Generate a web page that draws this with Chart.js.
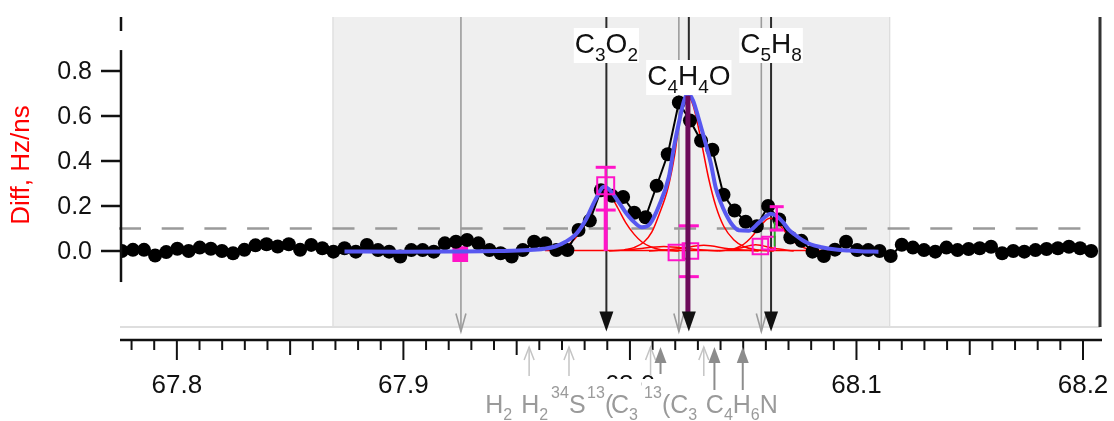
<!DOCTYPE html>
<html>
<head>
<meta charset="utf-8">
<title>Diff spectrum m/z 67.8 - 68.2</title>
<script src="https://cdn.jsdelivr.net/npm/chart.js@4.4.1/dist/chart.umd.min.js"></script>
<style>
  html, body { margin: 0; padding: 0; background: #fff; }
  #wrap { width: 1114px; height: 421px; position: relative; }
</style>
</head>
<body>
<div id="wrap"><canvas id="chart"></canvas></div>
<script>
// axis ranges
const xRange = [67.7749, 68.2075];
const yRange = [-0.3378, 1.04];
const yTicks = [0, 0.2, 0.4, 0.6, 0.8];
const xTicks = [67.8, 67.9, 68.0, 68.1, 68.2];
const threshold = 0.1;
const fitWindow = [67.8687, 68.1149];

// measured difference signal (Hz/ns)
const massPoints = [
  67.7757, 67.7806, 67.7855, 67.7904, 67.7953, 67.8002, 67.8052, 67.8101, 67.8150, 67.8199,
  67.8248, 67.8298, 67.8347, 67.8396, 67.8445, 67.8494, 67.8544, 67.8593, 67.8642, 67.8691,
  67.8740, 67.8790, 67.8839, 67.8888, 67.8937, 67.8986, 67.9035, 67.9085, 67.9134, 67.9183,
  67.9232, 67.9281, 67.9331, 67.9380, 67.9429, 67.9478, 67.9527, 67.9577, 67.9626, 67.9675,
  67.9724, 67.9773, 67.9823, 67.9872, 67.9921, 67.9970, 68.0019, 68.0069, 68.0118, 68.0167,
  68.0216, 68.0265, 68.0314, 68.0364, 68.0413, 68.0462, 68.0511, 68.0560, 68.0610, 68.0659,
  68.0708, 68.0757, 68.0806, 68.0856, 68.0905, 68.0954, 68.1003, 68.1052, 68.1102, 68.1151,
  68.1200, 68.1249, 68.1298, 68.1348, 68.1397, 68.1446, 68.1495, 68.1544, 68.1594, 68.1643,
  68.1692, 68.1741, 68.1790, 68.1839, 68.1889, 68.1938, 68.1987, 68.2036
];
const diffValues = [
  0.0, 0.005, 0.005, -0.02, -0.005, 0.01, 0.0, 0.015, 0.01, 0.0,
  -0.01, 0.005, 0.025, 0.03, 0.02, 0.03, 0.005, 0.027, 0.012, -0.003,
  0.012, -0.003, 0.027, 0.004, -0.003, -0.025, 0.004, 0.004, -0.003, 0.034,
  0.041, 0.049, 0.034, 0.004, -0.01, -0.025, 0.004, 0.041, 0.034, 0.004,
  0.004, 0.093, 0.135, 0.27, 0.245, 0.24, 0.17, 0.15, 0.29, 0.43,
  0.66, 0.58, 0.49, 0.45, 0.25, 0.18, 0.13, 0.11, 0.20, 0.14,
  0.06, 0.045, -0.003, -0.022, 0.006, 0.041, 0.004, 0.004, 0.0, -0.022,
  0.028, 0.015, 0.004, -0.003, 0.015, 0.004, 0.009, 0.012, 0.019, -0.01,
  0.0, -0.003, 0.004, 0.009, 0.012, 0.019, 0.012, 0.0
];

// total fit
const fitMass = [
  67.8740, 67.8982, 67.9203, 67.9423, 67.9555, 67.9621, 67.9670, 67.9714, 67.9762, 67.9806,
  67.9846, 67.9886, 67.9916, 67.9952, 67.9982, 68.0009, 68.0053, 68.0088, 68.0128, 68.0172,
  68.0194, 68.0216, 68.0238, 68.0256, 68.0278, 68.0300, 68.0317, 68.0339, 68.0357, 68.0379,
  68.0401, 68.0423, 68.0449, 68.0480, 68.0524, 68.0568, 68.0595, 68.0621, 68.0648, 68.0674,
  68.0701, 68.0731, 68.0762, 68.0797, 68.0846, 68.0908, 68.0965, 68.1031, 68.1097
];
const fitValues = [
  -0.002, -0.003, -0.002, 0.0, 0.004, 0.01, 0.02, 0.04, 0.075, 0.14,
  0.225, 0.285, 0.265, 0.215, 0.17, 0.138, 0.105, 0.12, 0.2, 0.33,
  0.46, 0.57, 0.665, 0.70, 0.67, 0.6, 0.54, 0.46, 0.39, 0.28,
  0.215, 0.165, 0.12, 0.092, 0.09, 0.125, 0.15, 0.165, 0.155, 0.13,
  0.095, 0.07, 0.048, 0.03, 0.017, 0.007, 0.002, -0.002, -0.003
];

// individual peak components
const c3o2Mass = [67.9643, 67.9687, 67.9731, 67.9775, 67.9820, 67.9855, 67.9881, 67.9912, 67.9947, 67.9982, 68.0018, 68.0053, 68.0093, 68.0137, 68.0216];
const c3o2Values = [0.003, 0.01, 0.03, 0.075, 0.15, 0.23, 0.27, 0.25, 0.19, 0.125, 0.075, 0.04, 0.018, 0.006, 0.0];
const c4h4oMass = [67.9974, 68.0018, 68.0062, 68.0097, 68.0128, 68.0168, 68.0198, 68.0216, 68.0238, 68.0256, 68.0278, 68.0300, 68.0322, 68.0348, 68.0379, 68.0414, 68.0458, 68.0502, 68.0555, 68.0635];
const c4h4oValues = [0.005, 0.015, 0.04, 0.085, 0.16, 0.28, 0.43, 0.56, 0.65, 0.69, 0.65, 0.56, 0.45, 0.32, 0.2, 0.11, 0.05, 0.02, 0.006, 0.0];
const c5h8Mass = [68.0458, 68.0502, 68.0533, 68.0564, 68.0590, 68.0617, 68.0643, 68.0674, 68.0705, 68.0740, 68.0780, 68.0842];
const c5h8Values = [0.008, 0.03, 0.058, 0.095, 0.127, 0.145, 0.135, 0.1, 0.06, 0.028, 0.01, 0.0];
const minorAMass = [67.9908, 68.0018, 68.0150, 68.0282, 68.0392];
const minorAValues = [0.0, 0.008, 0.02, 0.008, 0.0];
const minorBMass = [68.0084, 68.0216, 68.0326, 68.0436, 68.0568];
const minorBValues = [0.0, 0.01, 0.025, 0.01, 0.0];
const minorCMass = [68.0392, 68.0480, 68.0555, 68.0635, 68.0723];
const minorCValues = [0.0, 0.012, 0.028, 0.012, 0.0];
const baselineMass = [67.9625, 68.1050];
const baselineValues = [0.002, 0.002];

// peak list: assigned (black) and candidate (grey) positions
const peakNames = ['C_3O_2', 'C_4H_4O', 'C_5H_8'];
const peakMass = [67.9896, 68.0260, 68.0623];
const peakLabelTop = [28, 60, 28];
const candidateMass = [67.9254, 68.0216, 68.0580];

// stick intensities and error bars
const boxMass = [67.9893, 68.0205, 68.0267, 68.0576, 68.0612];
const boxValues = [0.29, -0.007, 0.0, 0.02, 0.035];
const lowBoxMass = [67.9251];
const lowBoxValues = [-0.014];
const errMass = [67.9893, 68.0260, 68.0648];
const errLow = [0.182, -0.114, 0.093];
const errHigh = [0.372, 0.112, 0.197];

// isotope / neighbour markers below the axis
const isoOpenMass = [67.9555, 67.9731, 68.0091, 68.0326];
const isoFilledMass = [68.0135, 68.0373, 68.0498];
const isoLabelMass = [67.9361, 67.9520, 67.9652, 67.9811, 67.9890, 67.9916, 68.0062, 68.0141, 68.0335];
const isoLabelText = ['H_2', 'H_2', '^34S', '^13', '(', 'C_3', '^13', '(C_3', 'C_4H_6N'];

const FONT = '"Liberation Sans", Arial, sans-serif';
const fontOf = size => size + 'px ' + FONT;

function pairs(xs, ys) {
  return xs.map((x, i) => ({ x: x, y: ys[i] }));
}

function formulaParts(str) {
  return str.match(/_\d+|\^\d+|[^_^]+/g).map(t => {
    if (t[0] === '_') return { text: t.slice(1), kind: 'sub' };
    if (t[0] === '^') return { text: t.slice(1), kind: 'sup' };
    return { text: t, kind: 'n' };
  });
}

function formulaWidth(ctx, str, size, small) {
  let w = 0;
  formulaParts(str).forEach(p => {
    ctx.font = fontOf(p.kind === 'n' ? size : small);
    w += ctx.measureText(p.text).width;
  });
  return w;
}

function drawFormula(ctx, str, x, baseline, size, small, color) {
  ctx.fillStyle = color;
  ctx.textAlign = 'left';
  ctx.textBaseline = 'alphabetic';
  formulaParts(str).forEach(p => {
    ctx.font = fontOf(p.kind === 'n' ? size : small);
    let yy = baseline;
    if (p.kind === 'sub') yy += size * 0.27;
    if (p.kind === 'sup') yy -= size * 0.6;
    ctx.fillText(p.text, x, yy);
    x += ctx.measureText(p.text).width;
  });
}

function seg(ctx, x1, y1, x2, y2) {
  ctx.beginPath();
  ctx.moveTo(x1, y1);
  ctx.lineTo(x2, y2);
  ctx.stroke();
}

const decor = {
  id: 'decor',
  beforeDatasetsDraw(chart) {
    const { ctx, chartArea: a, scales: { x, y } } = chart;
    ctx.save();
    // fit window
    const sx0 = x.getPixelForValue(fitWindow[0]);
    const sx1 = x.getPixelForValue(fitWindow[1]);
    ctx.fillStyle = '#efefef';
    ctx.fillRect(sx0, a.top, sx1 - sx0, a.bottom - a.top);
    ctx.strokeStyle = '#d8d8d8';
    ctx.lineWidth = 1;
    seg(ctx, sx0 + 0.5, a.top, sx0 + 0.5, a.bottom);
    seg(ctx, sx1 - 0.5, a.top, sx1 - 0.5, a.bottom);
    ctx.strokeStyle = '#dedede';
    ctx.lineWidth = 2;
    seg(ctx, a.left, a.bottom, a.right, a.bottom);

    // threshold
    ctx.strokeStyle = '#9a9a9a';
    ctx.lineWidth = 2.5;
    ctx.setLineDash([22, 20.7]);
    const ty = y.getPixelForValue(threshold);
    seg(ctx, a.left - 1, ty, a.right, ty);
    ctx.setLineDash([]);

    const tipY = y.getPixelForValue(-0.358);
    // candidate lines (grey, open heads)
    ctx.strokeStyle = '#9c9c9c';
    ctx.lineWidth = 1.6;
    candidateMass.forEach(m => {
      const px = x.getPixelForValue(m);
      seg(ctx, px, a.top, px, tipY);
      ctx.beginPath();
      ctx.moveTo(px - 5, tipY - 18);
      ctx.lineTo(px, tipY);
      ctx.lineTo(px + 5, tipY - 18);
      ctx.stroke();
    });
    // assigned peaks (black)
    ctx.strokeStyle = '#2a2a2a';
    ctx.lineWidth = 2;
    peakMass.forEach(m => {
      const px = x.getPixelForValue(m);
      seg(ctx, px, a.top, px, tipY - 10);
    });
    ctx.restore();
  },
  afterDatasetsDraw(chart) {
    const { ctx, chartArea: a, scales: { x, y } } = chart;
    ctx.save();
    const tipY = y.getPixelForValue(-0.358);

    // sticks
    ctx.lineCap = 'butt';
    ctx.strokeStyle = '#ff14c8';
    ctx.lineWidth = 4;
    seg(ctx, x.getPixelForValue(errMass[0]), y.getPixelForValue(0), x.getPixelForValue(errMass[0]), y.getPixelForValue(0.27));
    ctx.strokeStyle = '#22b022';
    ctx.lineWidth = 2;
    seg(ctx, x.getPixelForValue(68.0639), y.getPixelForValue(0.02), x.getPixelForValue(68.0639), y.getPixelForValue(0.13));

    // error bars
    ctx.strokeStyle = '#ff14c8';
    errMass.forEach((m, i) => {
      const px = x.getPixelForValue(m);
      const lo = y.getPixelForValue(errLow[i]);
      const hi = y.getPixelForValue(errHigh[i]);
      const cap = i === 2 ? 7 : 10;
      ctx.lineWidth = 2.5;
      seg(ctx, px, lo, px, hi);
      ctx.lineWidth = 3;
      seg(ctx, px - cap, lo, px + cap, lo);
      seg(ctx, px - cap, hi, px + cap, hi);
    });

    // C4H4O stick
    ctx.strokeStyle = '#6c0a5a';
    ctx.lineWidth = 5;
    const sx = x.getPixelForValue(68.0256);
    seg(ctx, sx, y.getPixelForValue(0.69), sx, y.getPixelForValue(-0.28));

    // black arrow heads
    ctx.fillStyle = '#111';
    peakMass.forEach(m => {
      const px = x.getPixelForValue(m);
      ctx.beginPath();
      ctx.moveTo(px - 7, tipY - 20);
      ctx.lineTo(px + 7, tipY - 20);
      ctx.lineTo(px, tipY);
      ctx.closePath();
      ctx.fill();
    });

    // peak labels on white boxes
    peakNames.forEach((name, i) => {
      const w = formulaWidth(ctx, name, 28, 19);
      const cx = x.getPixelForValue(peakMass[i]);
      const top = peakLabelTop[i];
      ctx.fillStyle = '#fff';
      ctx.fillRect(cx - w / 2 - 1, top, w + 2, 35);
      drawFormula(ctx, name, cx - w / 2, top + 25, 28, 19, '#111');
    });
    ctx.restore();
  },
  afterDraw(chart) {
    const { ctx, chartArea: a, scales: { x, y } } = chart;
    ctx.save();
    ctx.strokeStyle = '#111';
    ctx.fillStyle = '#111';

    // left axis
    ctx.lineWidth = 2.5;
    seg(ctx, a.left + 1, y.getPixelForValue(0.893), a.left + 1, y.getPixelForValue(-0.138));
    seg(ctx, a.left + 1, a.top, a.left + 1, a.top + 14);
    ctx.font = fontOf(25);
    ctx.textAlign = 'right';
    ctx.textBaseline = 'middle';
    yTicks.forEach(v => {
      const py = y.getPixelForValue(v);
      seg(ctx, a.left - 19, py, a.left + 1, py);
      ctx.fillText(v.toFixed(1), a.left - 28, py + 1);
    });

    // right frame
    ctx.strokeStyle = '#333';
    ctx.lineWidth = 3;
    seg(ctx, a.right, a.top, a.right, a.bottom);

    // bottom axis
    ctx.strokeStyle = '#111';
    ctx.lineWidth = 2.5;
    const axY = a.bottom + 13;
    seg(ctx, a.left, axY, a.right + 2, axY);
    ctx.lineWidth = 2;
    for (let i = 6778; i <= 6820; i++) {
      const px = x.getPixelForValue(i / 100);
      const len = i % 10 === 0 ? 20 : (i % 5 === 0 ? 15 : 10);
      seg(ctx, px, axY, px, axY + len);
    }
    ctx.font = fontOf(26);
    ctx.textAlign = 'center';
    ctx.textBaseline = 'middle';
    xTicks.forEach(v => {
      ctx.fillText(v.toFixed(1), x.getPixelForValue(v), axY + 46);
    });

    // y title
    ctx.save();
    ctx.translate(22, 165);
    ctx.rotate(-Math.PI / 2);
    ctx.fillStyle = '#ff0000';
    ctx.font = fontOf(26);
    ctx.textAlign = 'center';
    ctx.textBaseline = 'middle';
    ctx.fillText('Diff, Hz/ns', 0, 0);
    ctx.restore();

    // neighbour labels (white backed, drawn in order)
    const lblTop = axY + 39;
    isoLabelMass.forEach((m, i) => {
      const px = x.getPixelForValue(m);
      const w = formulaWidth(ctx, isoLabelText[i], 25, 16);
      ctx.fillStyle = '#fff';
      ctx.fillRect(px - 2, lblTop, w + 4, 421 - lblTop);
    });

    // neighbour markers
    const tip = axY + 7;
    ctx.strokeStyle = '#c4c4c4';
    ctx.lineWidth = 1.5;
    isoOpenMass.forEach(m => {
      const px = x.getPixelForValue(m);
      seg(ctx, px, tip, px, tip + 29);
      ctx.beginPath();
      ctx.moveTo(px - 5, tip + 13);
      ctx.lineTo(px, tip);
      ctx.lineTo(px + 5, tip + 13);
      ctx.stroke();
    });
    ctx.strokeStyle = '#8c8c8c';
    ctx.fillStyle = '#8c8c8c';
    ctx.lineWidth = 2;
    isoFilledMass.forEach((m, i) => {
      const px = x.getPixelForValue(m);
      seg(ctx, px, tip + 14, px, i === 0 ? tip + 27 : tip + 43);
      ctx.beginPath();
      ctx.moveTo(px - 6, tip + 16);
      ctx.lineTo(px + 6, tip + 16);
      ctx.lineTo(px, tip);
      ctx.closePath();
      ctx.fill();
    });

    isoLabelMass.forEach((m, i) => {
      drawFormula(ctx, isoLabelText[i], x.getPixelForValue(m), 413, 25, 16, '#9a9a9a');
    });
    ctx.restore();
  }
};

function curve(xs, ys, color, width, order) {
  return {
    data: pairs(xs, ys),
    showLine: true,
    borderColor: color,
    borderWidth: width,
    pointRadius: 0,
    cubicInterpolationMode: 'monotone',
    order: order
  };
}

const datasets = [
  {
    data: pairs(lowBoxMass, lowBoxValues),
    showLine: false,
    pointStyle: 'rect',
    pointRadius: 9,
    pointBorderWidth: 3,
    pointBorderColor: '#ff14c8',
    pointBackgroundColor: '#ff14c8',
    order: 8
  },
  curve(baselineMass, baselineValues, '#ff0000', 1.5, 6),
  curve(minorAMass, minorAValues, '#ff0000', 1.5, 6),
  curve(minorBMass, minorBValues, '#ff0000', 1.5, 6),
  curve(minorCMass, minorCValues, '#ff0000', 1.5, 6),
  curve(c3o2Mass, c3o2Values, '#ff0000', 1.5, 6),
  curve(c4h4oMass, c4h4oValues, '#ff0000', 1.5, 6),
  curve(c5h8Mass, c5h8Values, '#ff0000', 1.5, 6),
  {
    data: pairs(massPoints, diffValues),
    showLine: true,
    borderColor: '#000',
    borderWidth: 2,
    pointRadius: 7,
    pointBackgroundColor: '#000',
    pointBorderWidth: 0,
    order: 5
  },
  curve(fitMass, fitValues, '#5858f0', 4, 4),
  {
    data: pairs(boxMass, boxValues),
    showLine: false,
    pointStyle: 'rect',
    pointRadius: [12, 11, 11, 11, 9],
    pointBorderWidth: 2,
    pointBorderColor: '#ff14c8',
    pointBackgroundColor: 'rgba(0,0,0,0)',
    order: 1
  }
];

new Chart(document.getElementById('chart'), {
  type: 'scatter',
  data: { datasets: datasets },
  options: {
    responsive: true,
    maintainAspectRatio: false,
    animation: false,
    devicePixelRatio: 1,
    layout: { padding: { left: 120, top: 17, right: 12, bottom: 94 } },
    scales: {
      x: { type: 'linear', min: xRange[0], max: xRange[1], display: false },
      y: { type: 'linear', min: yRange[0], max: yRange[1], display: false }
    },
    plugins: { legend: { display: false }, tooltip: { enabled: false } },
    events: []
  },
  plugins: [decor]
});
</script>
</body>
</html>
